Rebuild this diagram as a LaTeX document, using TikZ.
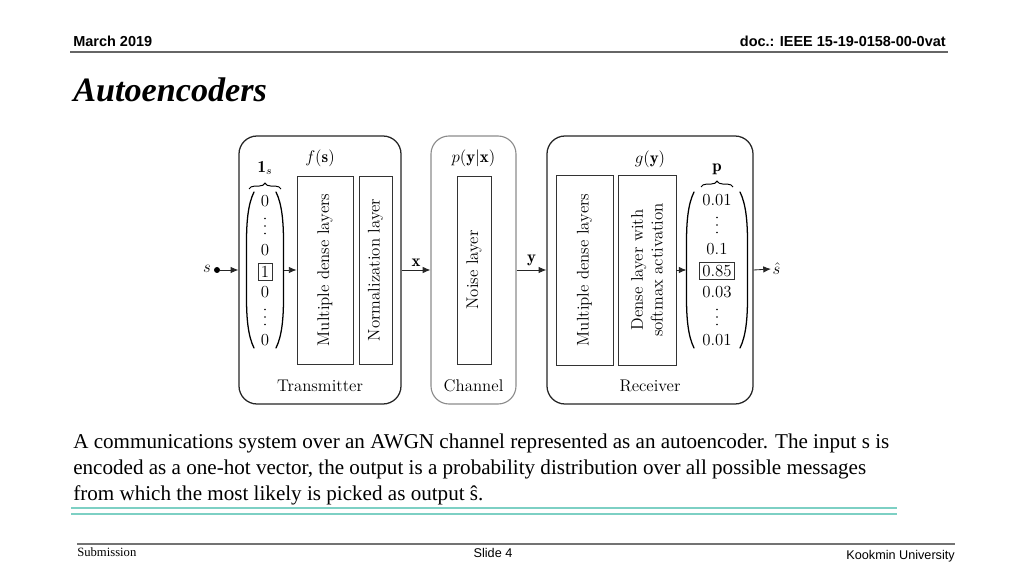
\documentclass[tikz,border=0pt]{standalone}
\usepackage{fontspec}
\usepackage{amsmath}
\usetikzlibrary{arrows.meta,decorations.pathreplacing}
\newfontfamily\hdrfont{Liberation Sans}
\newfontfamily\capfont{Liberation Serif}
\newlength\pxu \setlength\pxu{0.025cm}
\definecolor{tealc}{RGB}{125,208,196}
\begin{document}
\begin{tikzpicture}[x=0.025cm,y=-0.025cm,
  dtext/.style={font=\fontsize{12}{14}\selectfont, inner sep=1pt},
  outerbox/.style={draw=black!85, line width=0.9pt, rounded corners=18\pxu},
  chanbox/.style={draw=black!45, line width=0.8pt, rounded corners=18\pxu},
  layerbox/.style={draw=black!80, line width=0.6pt, inner sep=0pt},
  entry/.style={dtext, inner sep=0.5pt},
  boxentry/.style={dtext, draw=black!80, line width=0.6pt, inner sep=2pt},
  arr/.style={draw=black!85, line width=0.6pt, -{Latex[length=5.5pt,width=4.6pt]}},
  paren/.style={draw=black, line width=0.9pt, line cap=round},
  bracestyle/.style={draw=black, line width=0.7pt, decorate, decoration={brace, amplitude=4.2pt}},
  hdr/.style={font=\hdrfont\bfseries\fontsize{10.3}{12}\selectfont, inner sep=0pt},
  captext/.style={font=\capfont\fontsize{15}{17}\selectfont, inner sep=0pt},
  foot/.style={font=\fontsize{9}{11}\selectfont, inner sep=0pt}
]
\useasboundingbox[fill=white] (0,0) rectangle (1024,576);

% header
\node[hdr, anchor=base west] (date) at (73,47) {March 2019};
\node[hdr, anchor=base east] (doc) at (946,47) {doc.: IEEE 15-19-0158-00-0vat};
\coordinate (hl) at (70,52);
\coordinate (hr) at (948,52);
\draw[black!60, line width=1.4pt] (hl) -- (hr);

% title
\node[font=\capfont\bfseries\itshape\fontsize{24.3}{28}\selectfont, inner sep=0pt, anchor=base west] (title) at (73,102) {Autoencoders};

% outer boxes
\node[outerbox, minimum width=162\pxu, minimum height=268\pxu] (tx) at (320,270) {};
\node[chanbox, minimum width=85\pxu, minimum height=268\pxu] (ch) at (473.5,270) {};
\node[outerbox, minimum width=206\pxu, minimum height=268\pxu] (rx) at (650,270) {};

% headings / footers of boxes
\node[dtext] (fs) at (320,158) {$f(\mathbf{s})$};
\node[dtext] (pyx) at (473.5,158) {$p(\mathbf{y}|\mathbf{x})$};
\node[dtext] (gy) at (650,159) {$g(\mathbf{y})$};
\node[dtext] (txl) at (320,386) {Transmitter};
\node[dtext] (chl) at (473.5,386) {Channel};
\node[dtext] (rxl) at (650,386) {Receiver};

% layers
\node[layerbox, minimum width=56\pxu, minimum height=188\pxu] (txd) at (325,270) {};
\node[dtext, rotate=90] at (txd) {Multiple dense layers};
\node[layerbox, minimum width=33\pxu, minimum height=188\pxu] (nrm) at (375.5,270) {};
\node[dtext, rotate=90] at (nrm) {Normalization layer};
\node[layerbox, minimum width=34\pxu, minimum height=188\pxu] (noi) at (474,270) {};
\node[dtext, rotate=90] at (noi) {Noise layer};
\node[layerbox, minimum width=57\pxu, minimum height=190\pxu] (rxd) at (584.5,270) {};
\node[dtext, rotate=90] at (rxd) {Multiple dense layers};
\node[layerbox, minimum width=58\pxu, minimum height=190\pxu] (sm) at (647,270) {};
\node[dtext, rotate=90, align=center] at (sm) {Dense layer with\\softmax activation};

% one-hot vector
\node[dtext] (ones) at (265,168) {$\mathbf{1}_s$};
\coordinate (tbl) at (249,189);
\coordinate (tbr) at (281,189);
\draw[bracestyle] (tbl) -- (tbr);
\node[entry] (t1) at (265,201) {0};
\coordinate (t2) at (265,226);
\node[entry] (t3) at (265,250) {0};
\node[boxentry] (t4) at (265,272) {1};
\node[entry] (t5) at (265,292) {0};
\coordinate (t6) at (265,317);
\node[entry] (t7) at (265,340) {0};
\draw[paren] (254,192) .. controls (248,204) and (246.5,222) .. (246.5,242) -- (246.5,298) .. controls (246.5,318) and (248,336) .. (254,348);
\draw[paren] (276,192) .. controls (282,204) and (283.5,222) .. (283.5,242) -- (283.5,298) .. controls (283.5,318) and (282,336) .. (276,348);
\coordinate (tvr) at (284,270);

% probability vector
\node[dtext] (pl) at (717,169) {$\mathbf{p}$};
\coordinate (rbl) at (701,187);
\coordinate (rbr) at (733,187);
\draw[bracestyle] (rbl) -- (rbr);
\node[entry] (r1) at (717,200) {0.01};
\coordinate (r2) at (717,225);
\node[entry] (r3) at (717,249) {0.1};
\node[boxentry] (r4) at (717,271) {0.85};
\node[entry] (r5) at (717,292) {0.03};
\coordinate (r6) at (717,317);
\node[entry] (r7) at (717,340) {0.01};
\draw[paren] (694,192) .. controls (688,204) and (686.5,222) .. (686.5,242) -- (686.5,298) .. controls (686.5,318) and (688,336) .. (694,348);
\draw[paren] (740,192) .. controls (746,204) and (747.5,222) .. (747.5,242) -- (747.5,298) .. controls (747.5,318) and (746,336) .. (740,348);
\coordinate (rvl) at (686.5,270);

% vertical ellipses
\foreach \c in {t2,t6,r2,r6}{
  \foreach \d in {-7.5,0,7.5}{
    \fill[black] (\c) ++(0,\d) circle (0.95);
  }
}

% input / output
\node[dtext] (s) at (207,269) {$s$};
\node[circle, fill=black, inner sep=0pt, minimum size=6\pxu] (sdot) at (217,270) {};
\node[dtext, anchor=west] (shat) at (771,269) {$\hat{s}$};

% connectors
\draw[arr] (sdot) -- (sdot -| tx.west);
\draw[arr] (tvr) -- (tvr -| txd.west);
\draw[arr] (tx.east) -- node[dtext, above=2\pxu] (xl) {$\mathbf{x}$} (ch.west);
\draw[arr] (ch.east) -- node[dtext, above=2\pxu] (yl) {$\mathbf{y}$} (rx.west);
\draw[arr] (sm.east) -- (rvl);
\draw[arr] (rx.east) -- (shat.west);

% caption
\node[captext, anchor=base west] (c1) at (73,448) {A communications system over an AWGN channel represented as an autoencoder. The input s is};
\node[captext, anchor=base west] (c2) at (73,474) {encoded as a one-hot vector, the output is a probability distribution over all possible messages};
\node[captext, anchor=base west] (c3) at (73,500) {from which the most likely is picked as output ŝ.};
\coordinate (t1l) at (71,508);
\coordinate (t1r) at (897,508);
\coordinate (t2l) at (71,514);
\coordinate (t2r) at (897,514);
\draw[tealc, line width=1.1pt] (t1l) -- (t1r);
\draw[tealc, line width=1.1pt] (t2l) -- (t2r);

% footer
\coordinate (fl) at (77,544);
\coordinate (fr) at (955,544);
\draw[black!55, line width=1.4pt] (fl) -- (fr);
\node[foot, font=\capfont\fontsize{9}{11}\selectfont, anchor=base west] (sub) at (77,556) {Submission};
\node[foot, font=\hdrfont\fontsize{9}{11}\selectfont, anchor=base] (slide) at (493,557) {Slide 4};
\node[foot, font=\hdrfont\fontsize{9}{11}\selectfont, anchor=base east] (univ) at (955,559) {Kookmin University};
\end{tikzpicture}
\end{document}
